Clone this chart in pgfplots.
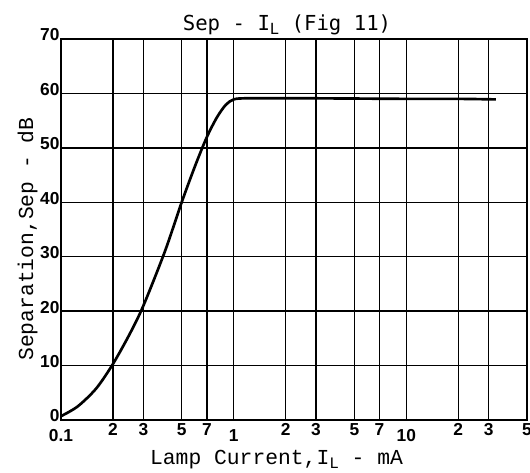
\documentclass[border=0pt]{standalone}
\usepackage{pgfplots}
\pgfplotsset{compat=1.18}
\usetikzlibrary{calc}
\usepackage{fontspec}
\setmainfont{Liberation Sans}
\newfontfamily\mono{Liberation Mono}
\newfontfamily\dmono{DejaVu Sans Mono}
\newfontfamily\tickfont{Liberation Sans Bold}
\newcommand{\low}[1]{\raisebox{-4.5pt}[\height][0pt]{#1}}
\begin{document}
\begin{tikzpicture}
\begin{axis}[name=ax,
  xmode=log, xmin=0.1, xmax=50, ymin=0, ymax=70,
  width=349.5pt, height=285.75pt, scale only axis,
  xtick={0.1,0.2,0.3,0.5,0.7,1,2,3,5,7,10,20,30,50},
  xticklabels={\low{0.1},2,3,5,7,\low{1}\hspace{9pt},2,3,5,7,\low{10},2,3,5},
  ytick={0,10,...,70},
  grid=major, major grid style={black, line width=1pt},
  axis line style={black, line width=1.1pt},
  major tick length=0pt,
  /pgf/number format/assume math mode=true,
  log ticks with fixed point,
  xticklabel style={font=\tickfont\fontsize{13}{15}\selectfont, inner sep=0pt, anchor=north, yshift=-2.5pt},
  yticklabel style={font=\tickfont\fontsize{13}{15}\selectfont, inner sep=0pt, anchor=east, xshift=-1pt, yshift=3pt},
  xlabel={\mono Lamp Current,I\raisebox{-0.3ex}{\fontsize{12}{12}\selectfont L} - mA},
  ylabel={\mono Separation,Sep - dB},
  xlabel style={font=\fontsize{16}{18}\selectfont, at={(axis description cs:0.4625,-0.118)}, anchor=base},
  ylabel style={font=\fontsize{16}{18}\selectfont, at={(axis description cs:-0.06,0.475)}, anchor=base},
  title={\dmono Sep - I\raisebox{-0.3ex}{\fontsize{11.5}{11.5}\selectfont L} (Fig 11)},
  title style={font=\fontsize{15.5}{17}\selectfont, at={(axis description cs:0.485,1.0)}, anchor=base},
]
\addplot[black, line width=2pt, smooth] coordinates {
(0.1,0.7) (0.125,2.5) (0.16,5.8) (0.2,10.3) (0.25,15.8) (0.3,21) (0.4,31)
(0.5,40) (0.6,46.8) (0.7,52) (0.8,55.6) (0.9,57.9) (1.0,58.9) (1.15,59.1)
(1.5,59.1) (3,59.1) (10,59) (20,59) (33,58.9)};
\end{axis}
\pgfresetboundingbox
\path ($(ax.south west)+(-45.75pt,-39.75pt)$) rectangle ($(ax.north east)+(2.25pt,29.25pt)$);
\end{tikzpicture}
\end{document}
